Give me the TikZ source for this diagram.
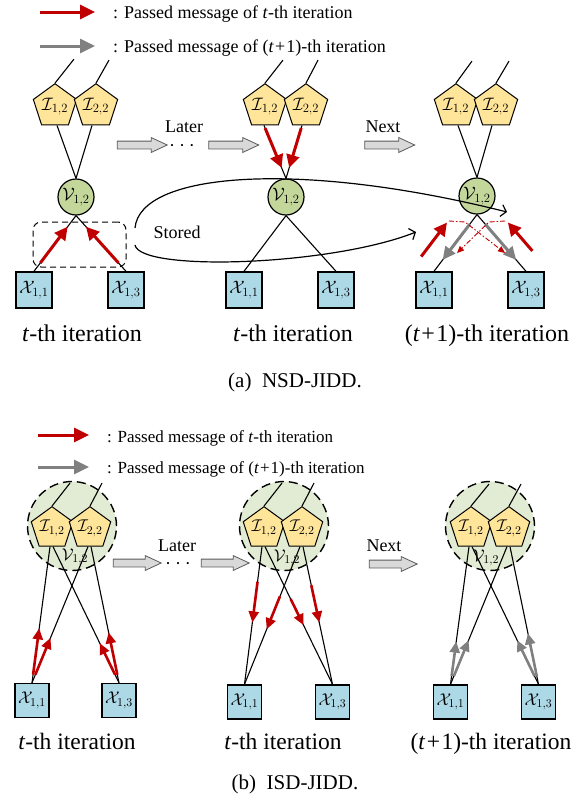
\RequirePackage{fix-cm}
\documentclass[tikz,border=0pt]{standalone}
\usepackage{fontspec}
\setmainfont{Liberation Serif}
\usetikzlibrary{shapes.geometric,shapes.arrows,arrows.meta,calc}
\definecolor{penfill}{RGB}{255,229,153}
\definecolor{vfill}{RGB}{196,215,155}
\definecolor{xfill}{RGB}{173,216,230}
\definecolor{bigfill}{RGB}{226,235,211}
\definecolor{myred}{RGB}{192,0,0}
\definecolor{mygray}{RGB}{128,128,128}
\definecolor{blockfill}{RGB}{217,217,217}
\definecolor{blockdraw}{RGB}{90,90,90}
\newcommand{\lbfa}{\fontsize{18}{20}\selectfont}
\newcommand{\lbfb}{\fontsize{17}{19}\selectfont}
\newcommand{\midf}{\fontsize{18}{20}\selectfont}
\newcommand{\capfa}{\fontsize{24}{28}\selectfont}
\newcommand{\capfb}{\fontsize{23.5}{28}\selectfont}
\newcommand{\subf}{\fontsize{21}{24}\selectfont}
\newcommand{\legfa}{\fontsize{18}{20}\selectfont}
\newcommand{\legfb}{\fontsize{17}{19}\selectfont}
\newcommand{\tpo}{(\textit{t}\hspace{0.06em}+\hspace{0.06em}1)}
\newcommand{\mydots}{·\hspace{0.22em}·\hspace{0.22em}·}
\tikzset{
  pent/.style={regular polygon, regular polygon sides=5, draw=black, fill=penfill, line width=1pt, inner sep=0pt, minimum size=39pt, font=\lbfa},
  pentb/.style={pent, minimum size=35pt, font=\lbfb},
  vnode/.style={circle, draw=black, fill=vfill, line width=1.2pt, inner sep=0pt, minimum size=36pt, font=\lbfa},
  xnode/.style={rectangle, draw=black, fill=xfill, line width=1.4pt, inner sep=0pt, minimum width=36pt, minimum height=36pt, font=\lbfa},
  xnodeb/.style={xnode, minimum width=34pt, minimum height=34pt, font=\lbfb},
  bigc/.style={circle, draw=black, fill=bigfill, line width=1.4pt, dash pattern=on 9pt off 5pt, minimum size=89pt, inner sep=0pt},
  vlab/.style={inner sep=0pt, font=\lbfb},
  edge/.style={line width=1.1pt, draw=black},
  redarr/.style={draw=myred, line width=3pt, -{Triangle[length=13pt,width=13pt]}},
  grayarr/.style={draw=mygray, line width=3pt, -{Triangle[length=13pt,width=12pt]}},
  redarrb/.style={draw=myred, line width=2.6pt, -{Triangle[length=11pt,width=10pt]}},
  grayarrb/.style={draw=mygray, line width=2.6pt, -{Triangle[length=11pt,width=10pt]}},
  legarr/.style={line width=3pt, -{Triangle[length=15pt,width=14pt]}},
  dashred/.style={draw=myred, line width=0.9pt, dash pattern=on 5pt off 2pt on 1.5pt off 2pt, -{Triangle[length=7pt,width=6pt]}},
  storedarr/.style={line width=1.2pt, -{Straight Barb[length=5pt,width=12pt]}},
  dashbox/.style={draw=black, line width=1pt, dash pattern=on 6pt off 4pt, rounded corners=8pt, minimum width=93pt, minimum height=45pt, inner sep=0pt},
  blockarr/.style={single arrow, draw=blockdraw, fill=blockfill, line width=0.8pt, minimum height=50pt, minimum width=14pt, single arrow head extend=3.5pt, single arrow tip angle=50, inner sep=0pt},
  midt/.style={inner sep=0pt, font=\midf},
  dotst/.style={inner sep=0pt, font=\midf, anchor=base},
  capa/.style={inner sep=0pt, font=\capfa, anchor=base},
  capb/.style={inner sep=0pt, font=\capfb, anchor=base},
  subc/.style={inner sep=0pt, font=\subf, anchor=base},
  lega/.style={inner sep=0pt, font=\legfa, anchor=base west},
  legb/.style={inner sep=0pt, font=\legfb, anchor=base west},
}
\newcommand{\shaft}{\rule{0pt}{7pt}}
\begin{document}
\begin{tikzpicture}[x=1pt,y=-1pt]
\useasboundingbox (0,0) rectangle (585,804);
% ================= (a) legend
\coordinate (la1) at (40,12); \coordinate (la2) at (95,12);
\coordinate (la3) at (40,46); \coordinate (la4) at (95,46);
\draw[legarr, draw=myred, fill=myred] (la1) -- (la2);
\draw[legarr, draw=mygray, fill=mygray] (la3) -- (la4);
\node[lega] (lta1) at (113,18.5) {: Passed message of \textit{t}-th iteration};
\node[lega] (lta2) at (113,52) {: Passed message of \tpo-th iteration};
% ================= (a) left tree
\node[pent] (aI1) at (55,106.5) {$\mathcal{I}_{1,2}$};
\node[pent] (aI2) at (96,106.5) {$\mathcal{I}_{2,2}$};
\node[vnode] (aV) at (76,197) {$\mathcal{V}_{1,2}$};
\node[xnode] (aX1) at (34,290) {$\mathcal{X}_{1,1}$};
\node[xnode] (aX3) at (126,290) {$\mathcal{X}_{1,3}$};
\coordinate (aT1) at ($(aI1.corner 1)+(19,-24)$);
\coordinate (aT2) at ($(aI2.corner 1)+(13,-23)$);
\draw[edge] (aI1.corner 1) -- (aT1);
\draw[edge] (aI2.corner 1) -- (aT2);
\coordinate (aB1) at ([xshift=2pt]aI1.south);
\coordinate (aB2) at ([xshift=-4pt]aI2.south);
\draw[edge] (aB1) -- (aV.north);
\draw[edge] (aB2) -- (aV.north);
\draw[edge] (aV.south) -- (aX1.north);
\draw[edge] (aV.south) -- (aX3.north);
\node[dashbox] (abox) at (79.5,244.5) {};
\draw[redarr] ($(aX1.north)!0.15!(aV.south)$) -- ($(aX1.north)!0.8!(aV.south)$);
\draw[redarr] ($(aX3.north)!0.15!(aV.south)$) -- ($(aX3.north)!0.8!(aV.south)$);
\node[capa] (acap1) at (82,341) {\textit{t}-th iteration};
% arrows Later
\node[blockarr] (ab1) at (138,145) {\shaft};
\node[dotst] (adots) at (182,151) {\mydots};
\node[blockarr] (ab2) at (229.5,145) {\shaft};
\node[midt, anchor=base] (alater) at (184,132) {Later};
% ================= (a) middle tree
\node[pent] (bI1) at (265,106.5) {$\mathcal{I}_{1,2}$};
\node[pent] (bI2) at (306,106.5) {$\mathcal{I}_{2,2}$};
\node[vnode] (bV) at (286,197) {$\mathcal{V}_{1,2}$};
\node[xnode] (bX1) at (244,290) {$\mathcal{X}_{1,1}$};
\node[xnode] (bX3) at (336,290) {$\mathcal{X}_{1,3}$};
\coordinate (bT1) at ($(bI1.corner 1)+(18,-23)$);
\coordinate (bT2) at ($(bI2.corner 1)+(12,-23)$);
\draw[edge] (bI1.corner 1) -- (bT1);
\draw[edge] (bI2.corner 1) -- (bT2);
\coordinate (bB1) at ([xshift=-1pt]bI1.south);
\coordinate (bB2) at ([xshift=-4pt]bI2.south);
\draw[edge] (bB1) -- (bV.north);
\draw[edge] (bB2) -- (bV.north);
\draw[edge] (bV.south) -- (bX1.north);
\draw[edge] (bV.south) -- (bX3.north);
\draw[redarr] ($(bB1)!0.05!(bV.north)$) -- ($(bB1)!0.8!(bV.north)$);
\draw[redarr] ($(bB2)!0.05!(bV.north)$) -- ($(bB2)!0.8!(bV.north)$);
\node[capa] (acap2) at (293,341) {\textit{t}-th iteration};
\node[blockarr] (ab3) at (385.5,145) {\shaft};
\node[midt, anchor=base] (anext) at (383,132) {Next};
% ================= (a) right tree
\node[pent] (cI1) at (456,106.5) {$\mathcal{I}_{1,2}$};
\node[pent] (cI2) at (496,106.5) {$\mathcal{I}_{2,2}$};
\node[vnode] (cV) at (477,196) {$\mathcal{V}_{1,2}$};
\node[xnode] (cX1) at (434,290) {$\mathcal{X}_{1,1}$};
\node[xnode] (cX3) at (526,290) {$\mathcal{X}_{1,3}$};
\coordinate (cT1) at ($(cI1.corner 1)+(16,-22)$);
\coordinate (cT2) at ($(cI2.corner 1)+(13,-22)$);
\draw[edge] (cI1.corner 1) -- (cT1);
\draw[edge] (cI2.corner 1) -- (cT2);
\coordinate (cB1) at ([xshift=2pt]cI1.south);
\coordinate (cB2) at ([xshift=-4pt]cI2.south);
\draw[edge] (cB1) -- (cV.north);
\draw[edge] (cB2) -- (cV.north);
\draw[edge] (cV.south) -- (cX1.north);
\draw[edge] (cV.south) -- (cX3.north);
\draw[grayarr] ($(cV.south)!0.17!(cX1.north)$) -- ($(cV.south)!0.8!(cX1.north)$);
\draw[grayarr] ($(cV.south)!0.17!(cX3.north)$) -- ($(cV.south)!0.8!(cX3.north)$);
\draw[redarr] ($(cX1.north)!0.26!(cV.south)+(-24,0)$) -- ($(cX1.north)!0.86!(cV.south)+(-24,0)$);
\draw[redarr] ($(cX3.north)!0.36!(cV.south)+(24,0)$) -- ($(cX3.north)!0.86!(cV.south)+(24,0)$);
\coordinate (cd1) at (449,221); \coordinate (cd1m) at (465,222); \coordinate (cd1e) at (505,253);
\coordinate (cd2) at (505,221); \coordinate (cd2m) at (489,222); \coordinate (cd2e) at (457,253);
\draw[dashred] (cd1) -- (cd1m) -- (cd1e);
\draw[dashred] (cd2) -- (cd2m) -- (cd2e);
\node[capa] (acap3) at (487,341) {\tpo-th iteration};
% stored curves
\coordinate (s1a) at (135,228); \coordinate (s1b) at (507,212);
\coordinate (s2a) at (135,245); \coordinate (s2b) at (416,232);
\draw[storedarr] (s1a) .. controls (140,172) and (300,160) .. (s1b);
\draw[storedarr] (s2a) .. controls (140,272) and (330,266) .. (s2b);
\node[midt, anchor=base] (stored) at (177,238) {Stored};
\node[subc] (suba) at (295,387) {(a)\ \ NSD-JIDD.};
% ================= (b) legend
\coordinate (lb1) at (38,435); \coordinate (lb2) at (89,435);
\coordinate (lb3) at (38,467); \coordinate (lb4) at (89,467);
\draw[legarr, draw=myred, fill=myred] (lb1) -- (lb2);
\draw[legarr, draw=mygray, fill=mygray] (lb3) -- (lb4);
\node[legb] (ltb1) at (107,442) {: Passed message of \textit{t}-th iteration};
\node[legb] (ltb2) at (107,473) {: Passed message of \tpo-th iteration};
% ================= (b) left tree
\node[bigc] (dC) at (72,526) {};
\node[pentb] (dI1) at (52,528.5) {$\mathcal{I}_{1,2}$};
\node[pentb] (dI2) at (90,528.5) {$\mathcal{I}_{2,2}$};
\node[xnodeb] (dX1) at (32,700.5) {$\mathcal{X}_{1,1}$};
\node[xnodeb] (dX3) at (119,700.5) {$\mathcal{X}_{1,3}$};
\coordinate (dT1) at ($(dI1.corner 1)+(18,-23)$);
\coordinate (dT2) at ($(dI2.corner 1)+(12,-23)$);
\draw[edge] (dI1.corner 1) -- (dT1);
\draw[edge] (dI2.corner 1) -- (dT2);
\coordinate (dI1l) at ([xshift=-2pt]dI1.south); \coordinate (dI1r) at ([xshift=1pt]dI1.south);
\coordinate (dI2l) at ([xshift=-2pt]dI2.south); \coordinate (dI2r) at ([xshift=1pt]dI2.south);
\draw[edge] (dI1l) -- (dX1.north);
\draw[edge] (dI1r) -- (dX3.north);
\draw[edge] (dI2l) -- (dX1.north);
\draw[edge] (dI2r) -- (dX3.north);
\node[vlab] (dV) at (75,557) {$\mathcal{V}_{1,2}$};
\draw[redarrb] ($(dX1.north)!0.06!(dI1l)$) -- ($(dX1.north)!0.40!(dI1l)$);
\draw[redarrb] ($(dX1.north)!0.06!(dI2l)$) -- ($(dX1.north)!0.33!(dI2l)$);
\draw[redarrb] ($(dX3.north)!0.06!(dI1r)$) -- ($(dX3.north)!0.29!(dI1r)$);
\draw[redarrb] ($(dX3.north)!0.06!(dI2r)$) -- ($(dX3.north)!0.37!(dI2r)$);
\node[capb] (bcap1) at (77,749) {\textit{t}-th iteration};
\node[blockarr, minimum height=48pt] (db1) at (133,563) {\shaft};
\node[dotst] (ddots) at (178,569) {\mydots};
\node[blockarr, minimum height=48pt] (db2) at (221,563) {\shaft};
\node[midt, anchor=base] (dlater) at (177,551) {Later};
% ================= (b) middle tree
\node[bigc] (eC) at (284,526) {};
\node[pentb] (eI1) at (264,528.5) {$\mathcal{I}_{1,2}$};
\node[pentb] (eI2) at (302,528.5) {$\mathcal{I}_{2,2}$};
\node[xnodeb] (eX1) at (244.5,702) {$\mathcal{X}_{1,1}$};
\node[xnodeb] (eX3) at (332.5,702) {$\mathcal{X}_{1,3}$};
\coordinate (eT1) at ($(eI1.corner 1)+(18,-23)$);
\coordinate (eT2) at ($(eI2.corner 1)+(12,-23)$);
\draw[edge] (eI1.corner 1) -- (eT1);
\draw[edge] (eI2.corner 1) -- (eT2);
\coordinate (eI1l) at ([xshift=-2pt]eI1.south); \coordinate (eI1r) at ([xshift=1pt]eI1.south);
\coordinate (eI2l) at ([xshift=-2pt]eI2.south); \coordinate (eI2r) at ([xshift=1pt]eI2.south);
\draw[edge] (eI1l) -- (eX1.north);
\draw[edge] (eI1r) -- (eX3.north);
\draw[edge] (eI2l) -- (eX1.north);
\draw[edge] (eI2r) -- (eX3.north);
\node[vlab] (eV) at (287,558) {$\mathcal{V}_{1,2}$};
\draw[redarrb] ($(eI1l)!0.255!(eX1.north)$) -- ($(eI1l)!0.55!(eX1.north)$);
\draw[redarrb] ($(eI2l)!0.36!(eX1.north)$) -- ($(eI2l)!0.6!(eX1.north)$);
\draw[redarrb] ($(eI1r)!0.38!(eX3.north)$) -- ($(eI1r)!0.57!(eX3.north)$);
\draw[redarrb] ($(eI2r)!0.28!(eX3.north)$) -- ($(eI2r)!0.55!(eX3.north)$);
\node[capb] (bcap2) at (283,749) {\textit{t}-th iteration};
\node[blockarr, minimum height=48pt] (eb1) at (389,564) {\shaft};
\node[midt, anchor=base] (enext) at (384,551) {Next};
% ================= (b) right tree
\node[bigc] (fC) at (490,526) {};
\node[pentb] (fI1) at (471,528.5) {$\mathcal{I}_{1,2}$};
\node[pentb] (fI2) at (509,528.5) {$\mathcal{I}_{2,2}$};
\node[xnodeb] (fX1) at (450.5,702) {$\mathcal{X}_{1,1}$};
\node[xnodeb] (fX3) at (538.5,702) {$\mathcal{X}_{1,3}$};
\coordinate (fT1) at ($(fI1.corner 1)+(18,-22)$);
\coordinate (fT2) at ($(fI2.corner 1)+(12,-22)$);
\draw[edge] (fI1.corner 1) -- (fT1);
\draw[edge] (fI2.corner 1) -- (fT2);
\coordinate (fI1l) at ([xshift=-2pt]fI1.south); \coordinate (fI1r) at ([xshift=1pt]fI1.south);
\coordinate (fI2l) at ([xshift=-2pt]fI2.south); \coordinate (fI2r) at ([xshift=1pt]fI2.south);
\draw[edge] (fI1l) -- (fX1.north);
\draw[edge] (fI1r) -- (fX3.north);
\draw[edge] (fI2l) -- (fX1.north);
\draw[edge] (fI2r) -- (fX3.north);
\node[vlab] (fV) at (486,558) {$\mathcal{V}_{1,2}$};
\draw[grayarrb] ($(fX1.north)!0.06!(fI1l)$) -- ($(fX1.north)!0.31!(fI1l)$);
\draw[grayarrb] ($(fX1.north)!0.06!(fI2l)$) -- ($(fX1.north)!0.32!(fI2l)$);
\draw[grayarrb] ($(fX3.north)!0.06!(fI1r)$) -- ($(fX3.north)!0.32!(fI1r)$);
\draw[grayarrb] ($(fX3.north)!0.06!(fI2r)$) -- ($(fX3.north)!0.37!(fI2r)$);
\node[capb] (bcap3) at (491,749) {\tpo-th iteration};
\node[subc] (subb) at (295,789) {(b)\ \ ISD-JIDD.};
\end{tikzpicture}
\end{document}
